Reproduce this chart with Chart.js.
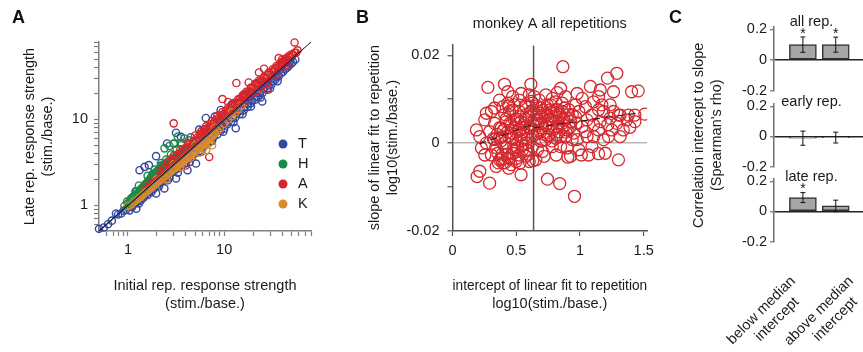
<!DOCTYPE html>
<html>
<head>
<meta charset="utf-8">
<script src="https://cdn.jsdelivr.net/npm/chart.js@4.4.1/dist/chart.umd.min.js"></script>
<style>
  html, body { margin: 0; padding: 0; background: #fff; }
  #figure { position: relative; width: 863px; height: 352px; overflow: hidden; background: #fff; }
  #figure canvas { position: absolute; top: 0; }
  .letter { position: absolute; font-family: "Liberation Sans", Arial, sans-serif; font-weight: bold; font-size: 18px; line-height: 18px; color: #111; }
</style>
</head>
<body>
<div id="figure">
  <canvas id="chartA" width="340" height="352" style="left:0"></canvas>
  <canvas id="chartB" width="320" height="352" style="left:340px"></canvas>
  <canvas id="chartC1" width="203" height="352" style="left:660px"></canvas>
  <canvas id="chartC2" width="203" height="352" style="left:660px"></canvas>
  <canvas id="chartC3" width="203" height="352" style="left:660px"></canvas>
  <div class="letter" style="left:12px;top:8px">A</div>
  <div class="letter" style="left:356px;top:8px">B</div>
  <div class="letter" style="left:669px;top:8px">C</div>
</div>
<script>
// ---- panel A: late vs initial response strength, per monkey ----
const monkeys = ['T', 'H', 'A', 'K'];
const monkeyColors = ['#34479e', '#1b8a45', '#d7252c', '#d98b2b'];

const monkeyT = [
  [0.5,0.53],[0.56,0.55],[0.62,0.6],[0.68,0.66],[0.75,0.8],[0.79,0.78],[0.85,0.8],[0.9,0.86],[0.95,0.88],[1.0,0.97],
  [1.04,0.87],[1.1,0.95],[1.15,1.08],[1.22,0.91],[1.25,1.1],[1.3,1.05],[1.38,1.2],[1.45,1.22],[1.5,1.3],[1.6,1.32],
  [1.68,1.45],[1.75,1.42],[1.85,1.55],[1.96,1.37],[2.0,1.7],[2.1,1.65],[2.25,1.9],[2.39,1.57],[2.4,1.95],[2.55,2.15],
  [2.7,2.1],[2.9,2.45],[3.16,2.05],[3.1,2.6],[3.35,2.7],[3.6,2.95],[3.9,3.1],[4.16,2.56],[4.2,3.4],[4.6,3.6],
  [5.1,3.06],[5.0,4.0],[5.5,4.3],[6.0,4.7],[6.6,5.1],[7.2,5.6],[7.8,6.3],[8.5,6.7],[9.2,7.4],[10,7.8],
  [10.8,8.8],[11.8,9.4],[13.2,7.9],[13,10.5],[14.5,11.5],[16,12.8],[17.5,14],[19,15.5],[21,17],[22.5,18],
  [24.9,16.2],[25,20.5],[28,23],[31,25.5],[34,29],[37,32],[41,36],[45,40],[50,45],[55,50],
  [1.2,1.2],[1.6,1.6],[2.2,2.2],[3.2,3.2],[4.5,4.5],[6.5,6.5],[9,9],[13.5,13.5],[19,19],[27,27],[38,38],[48,47],
  [1.05,0.98],[1.12,1.0],[1.18,1.05],[1.28,1.15],[1.35,1.12],[1.42,1.3],[1.55,1.38],[1.65,1.5],[1.72,1.52],[1.8,1.62],
  [1.9,1.7],[2.05,1.82],[2.15,1.95],[2.3,2.0],[2.45,2.2],[2.6,2.3],[2.8,2.5],[3.0,2.65],[3.2,2.8],[3.45,3.05],
  [3.7,3.2],[4.0,3.5],[4.3,3.75],[4.8,4.1],[5.2,4.5],[5.7,4.9],[6.3,5.4],[6.9,5.9],[7.5,6.5],[8.2,7.1],
  [8.9,7.6],[9.6,8.4],[10.4,9.0],[11.3,9.8],[12.3,10.6],[13.5,11.7],[14.8,12.6],[16.2,14],[17.8,15.3],[19.5,16.7],
  [21.5,18.5],[23.5,20.3],[26,22.5],[29,25],[32,28],[35,31],[39,34.5],[43,38.5],[47,42],[52,47],
  [2.6,1.95],[3.3,2.4],[4.4,3.2],[5.8,4.2],[7.5,5.6],[9.8,7.2],[12.5,9.3],[15.5,11.5],[19,14.2],[24,18],[30,23],[36,28],
  [1.2,1.45],[1.32,2.56],[1.49,2.8],[1.65,2.93],[1.8,2.3],[1.96,3.73],[2.2,2.9],[2.55,5.25],[3.0,5.25],[3.16,7.0],
  [3.55,6.27],[4.5,6.2],[5.5,7.6],[6.2,7.56],[6.45,10.4],[8,10.8],[9.2,12.9],[12,15],[16,19.5],[22,26.6],
  [27,30],[32.9,36.4],[40,43],[46,49]
];
const monkeyH = [
  [0.92,0.98],[0.98,1.1],[1.03,1.02],[1.08,1.2],[1.12,1.12],[1.17,1.3],[1.2,1.18],[1.25,1.38],[1.3,1.28],[1.34,1.5],
  [1.38,1.4],[1.42,1.62],[1.46,1.5],[1.5,1.72],[1.55,1.6],[1.6,1.85],[1.64,1.7],[1.7,1.98],[1.74,1.8],[1.8,2.15],
  [1.85,1.95],[1.9,2.3],[1.95,2.05],[2.0,2.45],[2.08,2.25],[2.15,2.6],[2.22,2.4],[2.3,2.8],[2.4,2.6],[2.5,3.0],
  [2.6,2.8],[2.7,3.25],[2.8,3.0],[2.9,3.45],[3.0,3.2],[3.15,3.7],[3.3,3.5],[3.45,3.95],[3.6,3.8],[3.8,4.3],
  [4.0,4.2],[4.2,4.7],[4.5,4.8],[4.8,5.3],
  [1.0,1.05],[1.06,1.14],[1.13,1.25],[1.19,1.22],[1.23,1.45],[1.28,1.35],[1.33,1.42],[1.37,1.55],[1.44,1.56],[1.48,1.66],
  [1.53,1.78],[1.58,1.75],[1.62,1.92],[1.68,1.86],[1.72,2.08],[1.78,1.98],[1.83,2.25],[1.88,2.12],[1.93,2.4],[1.98,2.25],
  [2.05,2.55],[2.12,2.45],[2.18,2.75],[2.26,2.6],[2.35,2.95],[2.45,2.8],[2.55,3.15],[2.65,3.0],[2.75,3.4],[2.85,3.2],
  [3.0,3.6],[3.1,3.45],[3.25,3.9],[3.4,3.75],[3.55,4.15],[3.7,4.0],
  [1.15,1.1],[1.4,1.35],[1.7,1.65],[2.0,1.95],[2.4,2.35],[2.9,2.85],
  [1.3,1.7],[1.6,2.2],[1.9,2.6],[2.2,3.1],[2.5,3.4],[2.8,3.9],[3.2,4.5],[3.6,5.0],[3.85,6.0],[3.3,6.3],
  [3.6,5.3],[4.3,5.7],[3.0,5.2],[2.4,4.6],[2.7,4.9]
];
const monkeyA = [
  [1.5,1.52],[1.7,1.78],[1.9,1.95],[2.1,2.2],[2.3,2.4],[2.5,2.65],[2.7,2.85],[2.9,3.05],[3.1,3.3],[3.3,3.5],
  [3.5,3.75],[3.8,4.0],[4.0,4.4],[4.3,4.6],[4.6,5.0],[4.9,5.3],[5.2,5.7],[5.5,6.0],[5.8,6.4],[6.2,6.8],
  [6.6,7.2],[7.0,7.8],[7.5,8.2],[8.0,8.9],[8.5,9.4],[9.0,10],[9.5,10.5],[10,11.1],[11,12],[12,13.2],
  [13,14.4],[14,15.5],[15,16.8],[16,17.8],[17.5,19.5],[19,21],[21,23],[23,25.2],[25,28],[27,30],
  [30,33],[33,36],[36,40],[40,44],[44,48],[48,53],[52,57],[56,60],
  [2.2,2.5],[2.4,2.75],[2.8,3.2],[3.2,3.7],[3.6,4.1],[3.9,4.6],[4.4,5.1],[4.8,5.6],[5.3,6.2],[5.6,6.7],
  [6.0,7.1],[6.4,7.7],[6.9,8.1],[7.3,8.8],[7.8,9.2],[8.3,10],[8.8,10.4],[9.3,11.2],[9.8,11.5],[10.5,12.6],
  [11.5,13.4],[12.2,14.6],[13.5,15.6],[14.5,17.3],[15.8,18.2],[16.8,19.8],[18.2,21.3],[20,23.5],[22,25.5],[24,28],
  [26,30.5],[28.5,33],[31,36],[34,39.5],[37.5,43],[41,47.5],[45,52],[50,57],[54,60],[58,64],
  [5.5,5.7],[7.2,7.4],[9.2,9.5],[11.8,12.2],[15,15.4],[19.5,20],[25,25.5],[32,32.5],[40,41],
  [2.6,3.2],[3.0,3.8],[3.5,4.5],[4.2,5.3],[5.0,6.5],[5.8,7.3],[6.5,8.3],[7.5,9.6],[8.5,11],[9.6,12.2],
  [11,13.8],[12.5,15.5],[14,17.2],[15.5,19],[17,21],[19,23.5],[21,26],[23,28.5],[26,31.5],[29,35],
  [32,38.5],[35,42],[39,46],[43,51],[47,55],
  [4.0,3.9],[6.0,5.8],[8.0,7.8],[10,9.7],[13,12.6],[17,16.5],[22,21.3],[28,27],[35,33.5],[45,43],
  [2.99,9.0],[7.0,3.65],[4.0,2.9],[9.6,17.3],[11,16],[13.4,26.6],[18,27],[23,35.3],[28.5,22.2],[26,39],
  [36.9,52],[40,50],[54,79]
];
const monkeyK = [
  [1.0,0.98],[1.1,1.04],[1.2,1.14],[1.3,1.22],[1.4,1.3],[1.5,1.4],[1.6,1.48],[1.7,1.58],[1.8,1.66],[1.9,1.74],
  [2.0,1.85],[2.2,2.0],[2.4,2.16],[2.6,2.34],[2.8,2.5],[3.0,2.66],[3.2,2.82],[3.4,3.0],[3.6,3.12],[3.8,3.3],
  [4.0,3.48],[4.3,3.7],[4.6,3.95],[5.0,4.3],[5.4,4.6],[5.8,4.95],[6.2,5.3],[6.6,5.6],[7.0,6.0],[7.5,6.4],
  [8.0,6.9],[8.5,7.4],[9.0,7.9],[10,8.9],[11,9.9],[12,10.9],[13,12],[14,13.2],[15,14.4],
  [1.05,1.0],[1.15,1.1],[1.25,1.18],[1.35,1.25],[1.45,1.36],[1.55,1.43],[1.65,1.53],[1.75,1.6],[1.85,1.72],[1.95,1.8],
  [2.1,1.92],[2.3,2.1],[2.5,2.25],[2.7,2.42],[2.9,2.6],[3.1,2.72],[3.3,2.9],[3.5,3.05],[3.7,3.2],[3.9,3.4],
  [4.15,3.55],[4.45,3.8],[4.8,4.1],[5.2,4.4],[5.6,4.75],[6.0,5.1],[6.4,5.4],[6.8,5.8],[7.25,6.2],[7.75,6.65],
  [2.0,2.0],[3.0,3.0],[5.0,5.0],[8.0,8.0],[12,12.1],
  [2.5,2.0],[3.5,2.8],[4.5,3.6],[5.5,4.1],[6.0,4.6],[7.0,5.3],[6.5,4.4],[7.5,5.0]
];
// per-monkey fit lines and the identity line (end points)
const fitT = [[0.5,0.5],[55,52]];
const fitH = [[0.9,0.95],[5,5.4]];
const fitA = [[1.5,1.6],[60,63]];
const fitK = [[1,1.03],[15,15.8]];
const identityA = [[0.5,0.5],[80,80]];

const ticksA = [0.6,0.7,0.8,0.9,1,2,3,4,5,6,7,8,9,10,20,30,40,50,60,70,80];
const tickLabelsA = [1, 10];

// ---- panel B: slope vs intercept, monkey A ----
const interceptSlopeB = [
  [0.278,0.0127],[0.408,0.0134],[0.434,0.0117],[0.615,0.0134],[0.866,0.0174],[1.289,0.0159],[1.216,0.0148],[1.405,0.0117],
  [1.457,0.0119],[1.263,0.0117],[1.509,0.0066],[1.082,0.0129],[1.159,0.0121],[1.146,0.0106],[0.978,0.0113],[0.188,0.003],
  [0.214,0.0015],[0.253,-0.0027],[0.193,-0.0076],[0.214,-0.0064],[0.291,-0.0091],[0.538,-0.0072],[0.441,-0.0057],[0.745,-0.0082],
  [0.841,-0.0092],[0.957,-0.0121],[1.302,-0.0038],[1.198,-0.0023],[1.146,-0.0024],[1.068,-0.0027],[1.011,-0.0027],[0.926,-0.003],
  [0.814,-0.0027],[0.905,-0.0032],[0.719,-0.003],[1.315,0.0015],[1.392,0.0036],[1.366,0.0053],[1.431,0.0049],[1.379,0.0064],
  [1.315,0.0064],[1.224,0.0015],[1.218,0.0042],[1.146,0.003],[1.185,0.0072],[1.094,0.0064],[1.043,0.0083],[1.107,0.0094],
  [1.017,0.0102],[0.965,0.006],[1.017,0.0038],[1.055,0.0015],[0.939,0.0008],[0.9,0.003],[0.848,0.0125],[0.822,0.0115],
  [0.887,0.0106],[0.783,0.0102],[0.732,0.011],[0.68,0.0098],[0.771,0.0087],[0.822,0.0076],[0.861,0.0072],[0.913,0.0076],
  [0.926,0.0049],[0.887,0.0015],[0.848,-0.0008],[0.9,-0.0011],[0.783,-0.0008],[0.732,0.0008],[0.667,-0.0015],[0.706,-0.0019],
  [0.628,-0.0008],[0.577,0],[0.602,0.0034],[0.641,0.0053],[0.68,0.0068],[0.628,0.0091],[0.577,0.0083],[0.524,0.0072],
  [0.524,0.0098],[0.486,0.0087],[0.447,0.0072],[0.395,0.0083],[0.33,0.008],[0.305,0.0072],[0.253,0.0053],[0.33,0.0045],
  [0.382,0.0034],[0.421,0.0049],[0.291,0.0026],[0.33,0.0008],[0.266,0],[0.369,0.0011],[0.408,-0.0008],[0.356,-0.0023],
  [0.369,-0.0038],[0.434,-0.0034],[0.472,-0.0023],[0.499,-0.0042],[0.524,-0.0027],[0.577,-0.003],[0.602,-0.0042],[0.55,-0.0015],
  [0.499,0.0008],[0.46,0.0023],[0.524,0.003],[0.563,0.0045],[0.486,0.0053],[0.538,0.0019],[0.577,0.0019],[0.628,0.0015],
  [0.667,0.0023],[0.706,0.0034],[0.745,0.0045],[0.783,0.0053],[0.822,0.0038],[0.758,0.0019],[0.81,0.0011],[0.835,0.0026],
  [0.861,0.0045],[0.9,0.0057],[0.835,0.006],[0.783,0.0072],[0.732,0.0064],[0.693,0.008],[0.745,0.0087],[0.81,0.0094],
  [0.861,0.0091],[0.965,0.0087],[0.991,0.0072],[1.055,0.0053],[1.107,0.0042],[1.043,0.0026],[1.107,0.0015],[1.159,0.0049],
  [1.237,0.0057],[1.289,0.0045],[1.25,0.003],[1.302,0.0064],[1.172,0.0087],[1.146,0.0076],[0.952,0.0023],[0.978,0.0008],
  [0.654,-0.0038],[0.693,0.0004],[0.46,-0.0049],[0.395,-0.0045],[0.343,-0.0053],[0.305,-0.0027],[0.227,-0.0011],[0.266,0.0068],
  [0.369,0.0098],[0.434,0.0091],[0.472,0.0106],[0.538,0.0113],[0.602,0.011],[0.641,0.0106],[0.538,0.0049],[0.615,0.0072],
  [0.667,0.0045],[0.991,-0.0015],[1.094,-0.0008],[1.185,0.0008],[1.34,0.003],[1.431,0.0064],[1.237,0.0087],[1.263,0.0072],
  [0.35,0.002],[0.38,0.0005],[0.4,0.003],[0.42,-0.001],[0.44,0.0015],[0.46,0.004],[0.48,-0.0005],[0.5,0.0025],
  [0.52,0.0045],[0.54,0.0005],[0.56,0.0035],[0.58,-0.0015],[0.6,0.006],[0.62,0.0025],[0.64,0.004],[0.66,0.0065],
  [0.7,0.0045],[0.72,0.002],[0.74,0.0065],[0.76,0.0035],[0.78,0.0005],[0.8,0.006],[0.82,0.002],[0.84,0.0065],
  [0.86,0.0035],[0.88,0.008],[0.92,0.0035],[0.94,0.0065],[0.97,0.0045],[0.45,-0.0035],[0.5,-0.0035],[0.55,-0.0005],
  [0.42,0.0055],[0.47,0.0075],[0.57,0.0085],[0.62,0.0095],[0.39,-0.0025],[0.36,-0.0045],[0.41,-0.0045],[0.6,-0.0025],
  [0.63,-0.004],
  [0.32,0.001],[0.34,-0.001],[0.37,0.0035],[0.39,0.0015],[0.41,0.0065],[0.43,0.0025],[0.45,0.0045],[0.47,0.001],
  [0.49,0.0035],[0.51,-0.001],[0.53,0.006],[0.55,0.0025],[0.57,0.0055],[0.59,0.001],[0.61,0.0035],[0.63,0.0075],
  [0.65,0.002],[0.67,0.0055],[0.69,0.0025],[0.71,0.0075],[0.73,0.004],[0.75,0.0015],[0.77,0.0055],[0.79,0.003],
  [0.81,0.0075],[0.83,0.0045],[0.85,0.0015],[0.87,0.0055],[0.89,0.0025],[0.91,0.0065],[0.38,-0.0035],[0.43,-0.0025],
  [0.48,-0.0015],[0.53,-0.0045],[0.58,0.0065],[0.44,0.0085],[0.5,0.0055],[0.66,0.0085],[0.7,0.006],[0.76,0.0075]
];
const medianInterceptB = 0.636;
const fitBelowB = [[0.21,-0.0002],[0.636,0.0044]];
const fitAboveB = [[0.636,0.0035],[1.44,0.0068]];
const ticksBX = [0, 0.5, 1, 1.5];
const tickTextBX = ['0', '0.5', '1', '1.5'];
const ticksBY = [-0.02, -0.01, 0, 0.01, 0.02];
const tickTextBY = ['-0.02', '', '0', '', '0.02'];

// ---- panel C: Spearman's rho, below / above median intercept ----
const groupsC = [['below median', 'intercept'], ['above median', 'intercept']];
const labelPosC = [0.7, 2.47];   // where the slanted group labels sit on the x axis
const rhoAll = [0.10, 0.10];
const errAll = [0.05, 0.049];
const sigAll = [true, true];
const rhoEarly = [-0.012, -0.008];
const errEarly = [0.047, 0.036];
const sigEarly = [false, false];
const rhoLate = [0.092, 0.037];
const errLate = [0.033, 0.038];
const sigLate = [true, false];
const ticksCY = [-0.2, 0, 0.2];
const tickTextCY = ['-0.2', '0', '0.2'];

const FONT = '"Liberation Sans", Arial, Helvetica, sans-serif';
Chart.defaults.font.family = FONT;
Chart.defaults.font.size = 14.5;
Chart.defaults.color = '#1a1a1a';
Chart.defaults.animation = false;

const toXY = pts => pts.map(p => ({ x: p[0], y: p[1] }));

const lineSet = (pts, color, width, order, dash) => ({
  type: 'line', data: toXY(pts), borderColor: color, borderWidth: width,
  borderDash: dash || [], pointRadius: 0, fill: false, order: order, clip: false
});

const dotLegend = {
  id: 'dotLegend',
  afterDatasetsDraw(chart, args, opts) {
    const { ctx, chartArea } = chart;
    ctx.save();
    ctx.font = '14.5px ' + FONT;
    ctx.textBaseline = 'middle';
    opts.names.forEach((name, i) => {
      const x = chartArea.right - opts.right;
      const y = chartArea.top + opts.top + i * opts.step;
      ctx.fillStyle = opts.colors[i];
      ctx.beginPath();
      ctx.arc(x, y, 4.5, 0, Math.PI * 2);
      ctx.fill();
      ctx.fillStyle = '#1a1a1a';
      ctx.fillText(name, x + 15, y);
    });
    ctx.restore();
  }
};

// error bars, significance stars and the small title of each C row
const rhoMarks = {
  id: 'rhoMarks',
  afterDatasetsDraw(chart, args, opts) {
    const { ctx, chartArea, scales: { x, y } } = chart;
    ctx.save();
    ctx.strokeStyle = '#111';
    ctx.lineWidth = 1;
    ctx.fillStyle = '#111';
    ctx.font = '14px ' + FONT;
    ctx.textAlign = 'center';
    ctx.textBaseline = 'middle';
    opts.values.forEach((v, i) => {
      const px = x.getPixelForValue(i + 1);
      const top = y.getPixelForValue(v + opts.err[i]);
      const bot = y.getPixelForValue(v - opts.err[i]);
      ctx.beginPath();
      ctx.moveTo(px, top); ctx.lineTo(px, bot);
      ctx.moveTo(px - 2.5, top); ctx.lineTo(px + 2.5, top);
      ctx.moveTo(px - 2.5, bot); ctx.lineTo(px + 2.5, bot);
      ctx.stroke();
      if (opts.sig[i]) ctx.fillText('*', px, top - 3);
    });
    ctx.font = '14.5px ' + FONT;
    ctx.fillStyle = '#1a1a1a';
    ctx.textBaseline = 'alphabetic';
    ctx.fillText(opts.title, (chartArea.left + chartArea.right) / 2 - 7, chartArea.top + opts.titleDy);
    ctx.restore();
  }
};

// ---------- chart A ----------
new Chart(document.getElementById('chartA'), {
  type: 'scatter',
  data: {
    datasets: [
      lineSet(identityA, '#111', 1, 0),
      lineSet(fitA, monkeyColors[2], 1.5, 1),
      lineSet(fitK, monkeyColors[3], 1.5, 1),
      lineSet(fitH, monkeyColors[1], 1.5, 1),
      lineSet(fitT, monkeyColors[0], 1.5, 1),
      ...[monkeyT, monkeyH, monkeyA, monkeyK].map((pts, i) => ({
        label: monkeys[i], data: toXY(pts),
        borderColor: monkeyColors[i], backgroundColor: 'rgba(0,0,0,0)',
        pointRadius: 3.6, borderWidth: 1.4, clip: false,
        order: [5, 4, 3, 2][i]
      }))
    ]
  },
  options: {
    responsive: false,
    layout: { padding: { left: 0, top: 42, right: 29, bottom: 0 } },
    plugins: {
      legend: { display: false },
      tooltip: { enabled: false },
      dotLegend: { names: monkeys, colors: monkeyColors, right: 28, top: 102, step: 20 }
    },
    scales: {
      x: {
        type: 'logarithmic', min: 0.5, max: 80,
        afterFit: s => { s.height = 121; },
        afterBuildTicks: s => { s.ticks = ticksA.map(v => ({ value: v })); },
        ticks: { autoSkip: false, maxRotation: 0, padding: 5, callback: v => tickLabelsA.includes(v) ? String(v) : '' },
        grid: { drawOnChartArea: false, tickLength: 5, tickColor: '#808080', tickWidth: 1.2 },
        border: { color: '#808080', width: 1.5 },
        title: { display: true, text: ['Initial rep. response strength', '(stim./base.)'],
                 font: { size: 14.5, lineHeight: 1.25 }, padding: { top: 0, bottom: 39 } }
      },
      y: {
        type: 'logarithmic', min: 0.5, max: 80,
        afterFit: s => { s.width = 99; },
        afterBuildTicks: s => { s.ticks = ticksA.map(v => ({ value: v })); },
        ticks: { autoSkip: false, padding: 6, callback: v => tickLabelsA.includes(v) ? String(v) : '' },
        grid: { drawOnChartArea: false, tickLength: 5, tickColor: '#808080', tickWidth: 1.2 },
        border: { color: '#808080', width: 1.5 },
        title: { display: true, text: ['Late rep. response strength', '(stim./base.)'],
                 font: { size: 14.5, lineHeight: 1.25 }, padding: { top: 21, bottom: 0 } }
      }
    }
  },
  plugins: [dotLegend]
});

// ---------- chart B ----------
new Chart(document.getElementById('chartB'), {
  type: 'scatter',
  data: {
    datasets: [
      lineSet([[medianInterceptB, -0.02], [medianInterceptB, 0.0222]], '#555', 1.5, 0),
      lineSet(fitBelowB, '#222', 1.2, 0, [7, 5]),
      lineSet(fitAboveB, '#222', 1.2, 0, [7, 5]),
      {
        label: 'monkey A', data: toXY(interceptSlopeB),
        borderColor: '#d42a2f', backgroundColor: 'rgba(0,0,0,0)',
        pointRadius: 6, borderWidth: 1.3, order: 1
      }
    ]
  },
  options: {
    responsive: false,
    layout: { padding: { left: 0, top: 0, right: 11, bottom: 0 } },
    plugins: {
      legend: { display: false },
      tooltip: { enabled: false },
      title: { display: true, text: 'monkey A all repetitions', fullSize: false,
               font: { size: 14.5, weight: 'normal', lineHeight: 1.2 }, color: '#1a1a1a',
               padding: { top: 15.6, bottom: 11.3 } }
    },
    scales: {
      x: {
        type: 'linear', min: 0, max: 1.527,
        afterFit: s => { s.height = 121; },
        afterBuildTicks: s => { s.ticks = ticksBX.map(v => ({ value: v })); },
        ticks: { autoSkip: false, maxRotation: 0, padding: 6, callback: (v, i) => tickTextBX[i] },
        grid: { drawOnChartArea: false, tickLength: 5, tickColor: '#555', tickWidth: 1.2 },
        border: { color: '#555', width: 1.5 },
        title: { display: true, text: ['intercept of linear fit to repetition', 'log10(stim./base.)'],
                 font: { size: 14.5, lineHeight: 1.25 }, padding: { top: 0, bottom: 39 } }
      },
      y: {
        type: 'linear', min: -0.02, max: 0.0225,
        afterFit: s => { s.width = 112.5; },
        afterBuildTicks: s => { s.ticks = ticksBY.map(v => ({ value: v })); },
        ticks: { autoSkip: false, padding: 8, callback: (v, i) => tickTextBY[i] },
        grid: {
          color: c => (c.tick && c.tick.value === 0) ? '#b8b8b8' : 'rgba(0,0,0,0)',
          lineWidth: 1.5, tickLength: 5, tickColor: '#555', tickWidth: 1.2
        },
        border: { color: '#555', width: 1.5 },
        title: { display: true, text: ['slope of linear fit to repetition', 'log10(stim./base.)'],
                 font: { size: 14.5, lineHeight: 1.25 }, padding: { top: 26, bottom: 0 } }
      }
    }
  }
});

// ---------- chart C (three rows) ----------
function rhoChart(id, title, titleDy, values, err, sig, top, bottom, isLast, yTitle) {
  return new Chart(document.getElementById(id), {
    type: 'bar',
    data: {
      datasets: [{
        data: values.map((v, i) => ({ x: i + 1, y: v })),
        backgroundColor: '#a6a6a6', borderColor: '#333', borderWidth: 1.5,
        borderSkipped: false, barThickness: 27
      }]
    },
    options: {
      responsive: false,
      layout: { padding: { left: 0, top: top, right: 0, bottom: isLast ? 0 : 352 - bottom } },
      plugins: {
        legend: { display: false },
        tooltip: { enabled: false },
        rhoMarks: { title: title, titleDy: titleDy, values: values, err: err, sig: sig }
      },
      scales: {
        x: {
          type: 'linear', min: 0.12, max: 2.83, offset: false,
          display: isLast,
          afterFit: s => {
            if (!isLast) return;
            s.height = 352 - bottom;
            s.paddingLeft = 0; s.paddingRight = 0;
          },
          afterBuildTicks: s => { s.ticks = labelPosC.map(v => ({ value: v })); },
          ticks: { autoSkip: false, minRotation: 45, maxRotation: 45, padding: 31,
                   font: { size: 14.5, lineHeight: 1.2 },
                   callback: (v, i) => groupsC[i].map((t, k) => k ? t + '   ' : t) },
          grid: { display: false, drawTicks: false, offset: false },
          border: { display: false }
        },
        y: {
          min: -0.2, max: 0.215,
          afterFit: s => { s.width = 114; },
          afterBuildTicks: s => { s.ticks = ticksCY.map(v => ({ value: v })); },
          ticks: { autoSkip: false, padding: 3, callback: (v, i) => tickTextCY[i] },
          grid: {
            color: c => (c.tick && c.tick.value === 0) ? '#222' : 'rgba(0,0,0,0)',
            lineWidth: 1.5, tickLength: 4, tickColor: '#707070', tickWidth: 1.2
          },
          border: { color: '#707070', width: 1.5 },
          title: { display: !!yTitle, text: yTitle || '',
                   font: { size: 14.5, lineHeight: 1.25 }, padding: { top: 30, bottom: 0 } }
        }
      }
    },
    plugins: [rhoMarks]
  });
}

rhoChart('chartC1', 'all rep.', -1, rhoAll, errAll, sigAll, 27, 90.7, false);
rhoChart('chartC2', 'early rep.', 2, rhoEarly, errEarly, sigEarly, 104, 166.5, false,
         ['Correlation intercept to slope', "(Spearman's rho)"]);
rhoChart('chartC3', 'late rep.', 2, rhoLate, errLate, sigLate, 179, 241.7, true);
</script>
</body>
</html>
